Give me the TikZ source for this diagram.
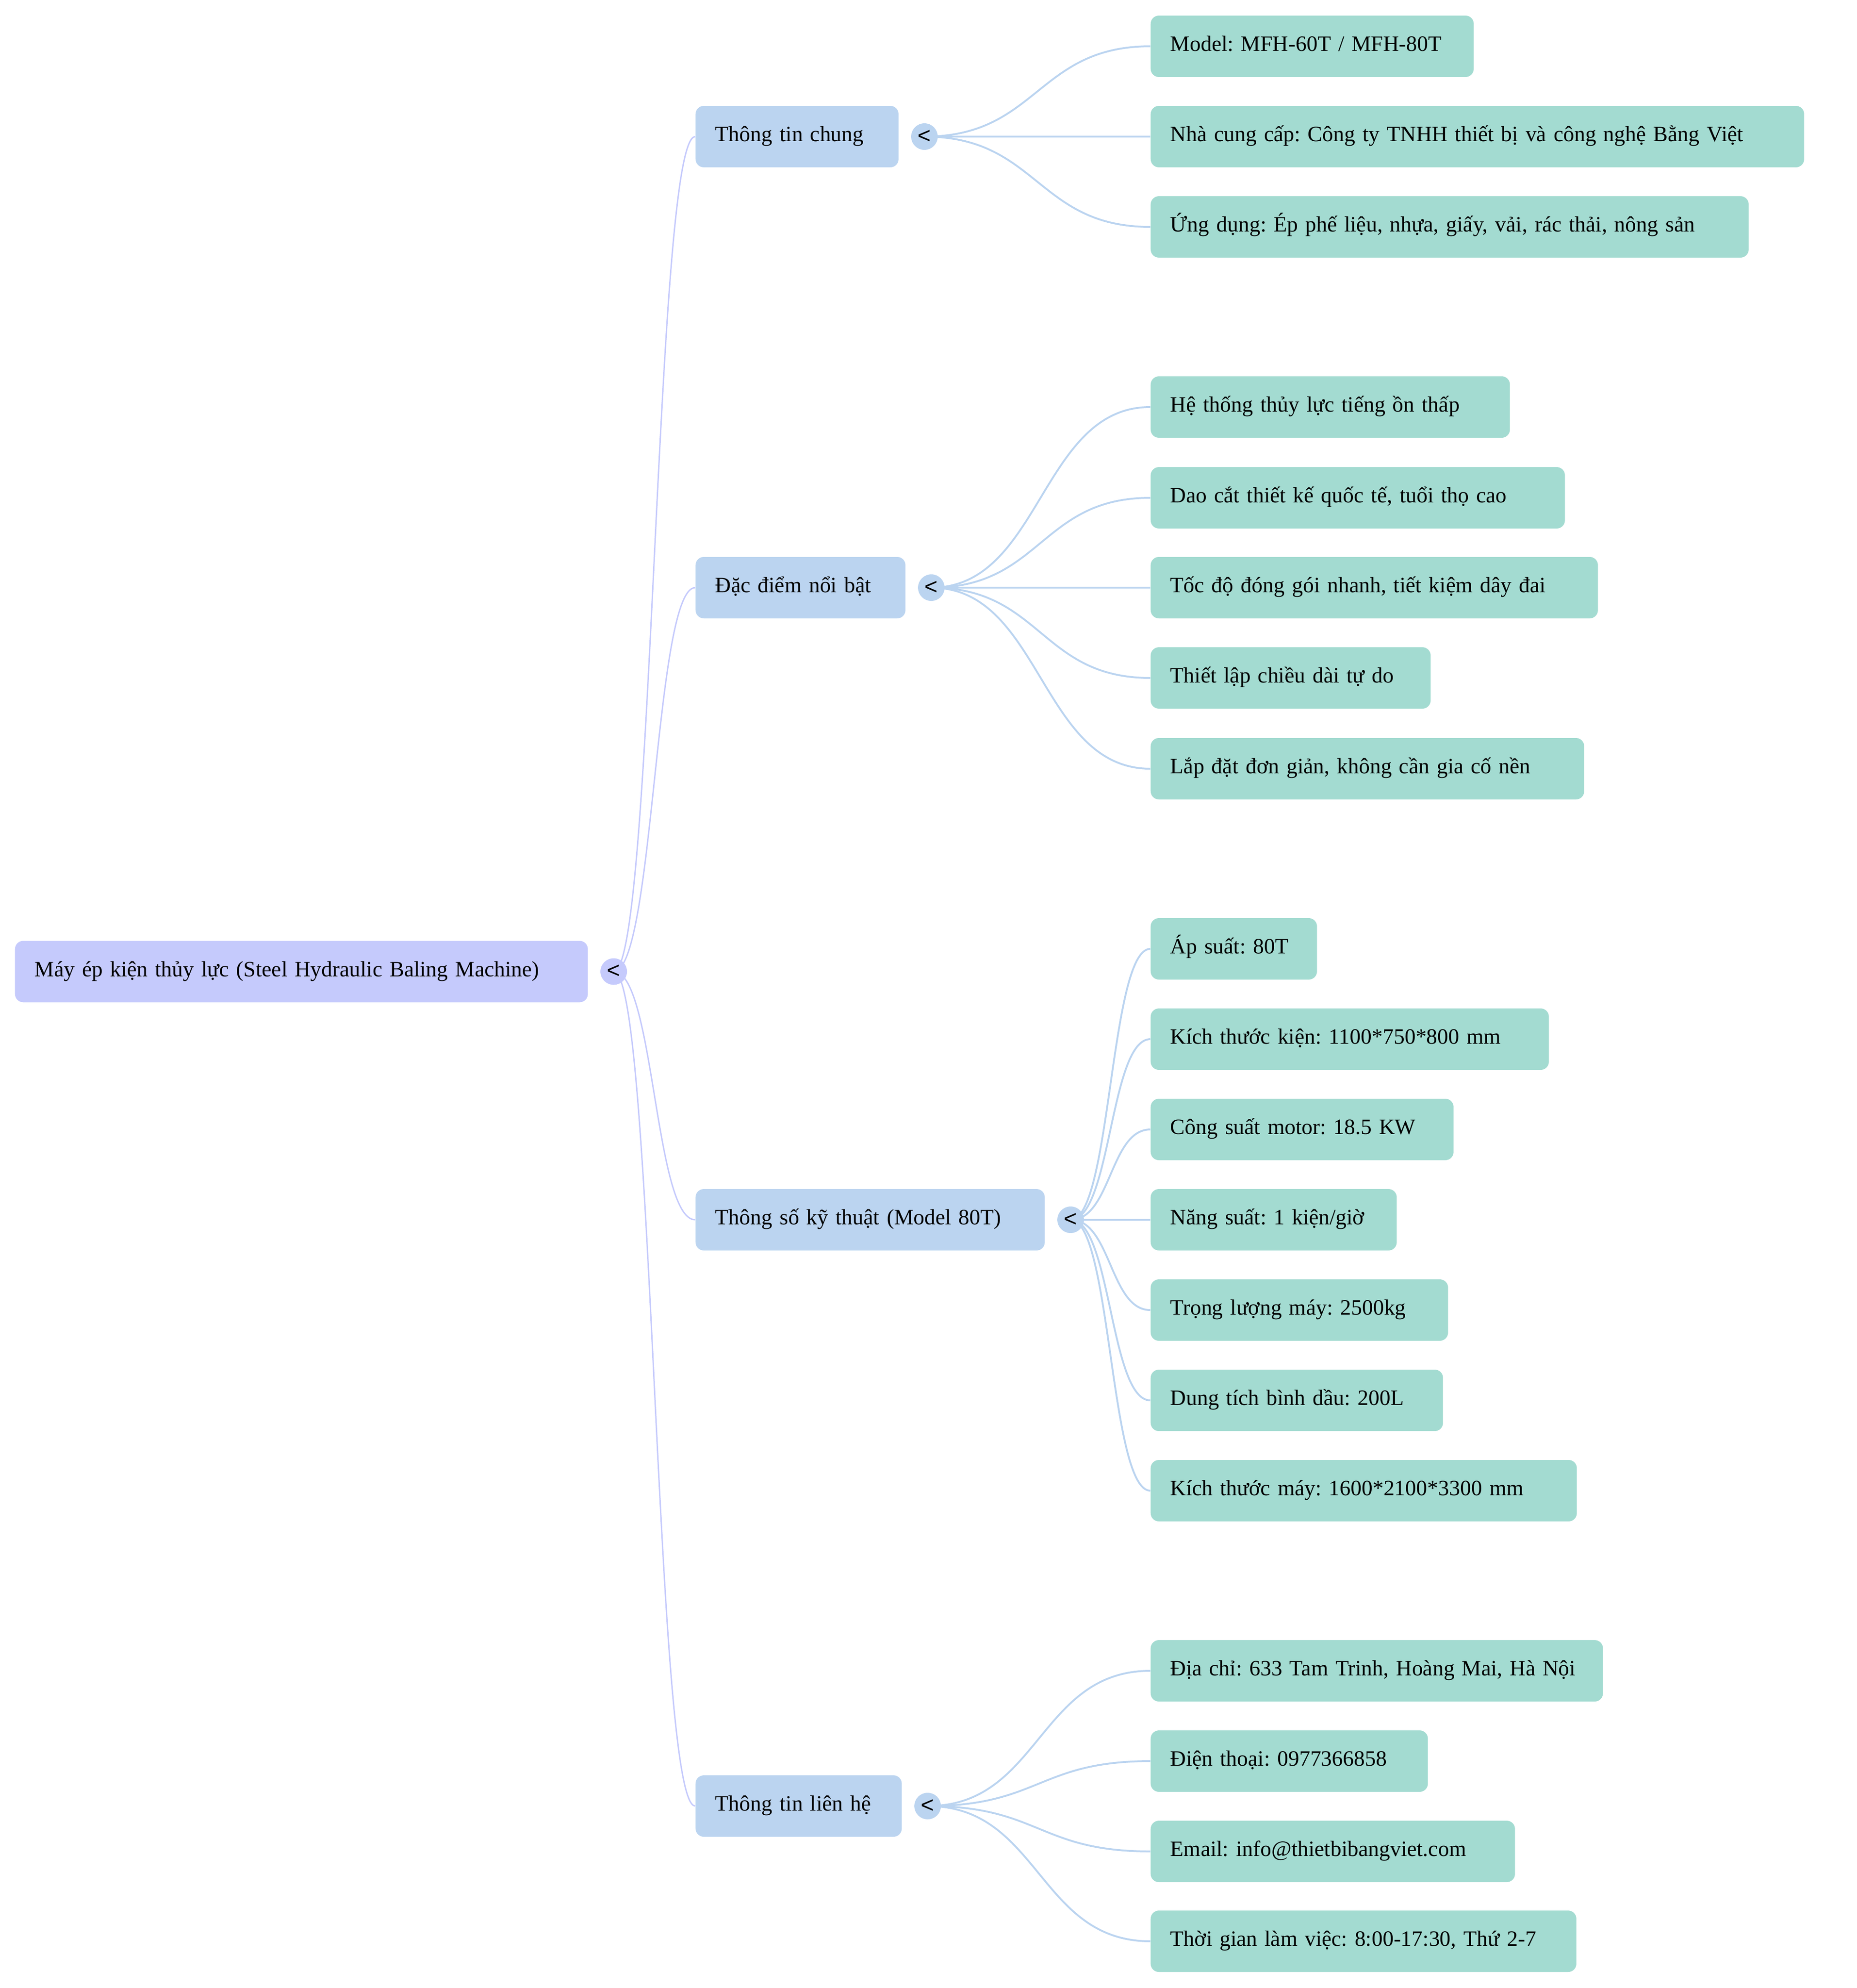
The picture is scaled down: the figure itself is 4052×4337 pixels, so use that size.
\documentclass[tikz,border=0pt]{standalone}
\usepackage{fontspec}
\setmainfont{Liberation Serif}
\newfontfamily\signfont{Liberation Sans}
\usetikzlibrary{positioning,backgrounds}
\definecolor{rootc}{HTML}{C5CAFC}
\definecolor{topicc}{HTML}{BBD4F0}
\definecolor{leafc}{HTML}{A3DBD1}
\frenchspacing
\tikzset{
  box/.style={anchor=west, rounded corners=1.8mm, minimum height=13.4mm, inner xsep=4.3mm,
    align=left, text height=3.3mm, text depth=1.2mm, font=\fontsize{13.6pt}{17pt}\selectfont},
  rootbox/.style={box, fill=rootc, text width=#1},
  topic/.style={box, fill=topicc, text width=#1},
  leaf/.style={box, fill=leafc, text width=#1},
  knob/.style={circle, inner sep=0pt, minimum size=5.8mm, fill=#1,
    font=\signfont\fontsize{14pt}{17pt}\selectfont},
  rootline/.style={draw=rootc, line width=0.3mm},
  leafline/.style={draw=topicc, line width=0.4mm},
}
\begin{document}
\begin{tikzpicture}[x=0.1mm,y=-0.1mm]
\useasboundingbox (0,0) rectangle (4052,4337);

% root
\node[rootbox=116.4mm] (root) at (32,2119.5) {Máy ép kiện thủy lực (Steel Hydraulic Baling Machine)};
\node[knob=rootc, right=2.6mm of root] (kroot) {<};

% topics
\node[topic=35.7mm] (gen) at (1517,298) {Thông tin chung};
\node[topic=37.2mm] (feat) at (1517,1282) {Đặc điểm nổi bật};
\node[topic=67.6mm] (spec) at (1517,2661) {Thông số kỹ thuật (Model 80T)};
\node[topic=36.4mm] (cont) at (1517,3940) {Thông tin liên hệ};
\foreach \t in {gen,feat,spec,cont}
  \node[knob=topicc, right=2.6mm of \t] (k\t) {<};

% leaves
\node[leaf=61.9mm] (gen1) at (2510,101) {Model: MFH-60T / MFH-80T};
\node[leaf=134mm] (gen2) at (2510,298) {Nhà cung cấp: Công ty TNHH thiết bị và công nghệ Bằng Việt};
\node[leaf=121.9mm] (gen3) at (2510,495) {Ứng dụng: Ép phế liệu, nhựa, giấy, vải, rác thải, nông sản};

\node[leaf=69.8mm] (feat1) at (2510,888) {Hệ thống thủy lực tiếng ồn thấp};
\node[leaf=81.8mm] (feat2) at (2510,1086) {Dao cắt thiết kế quốc tế, tuổi thọ cao};
\node[leaf=89mm] (feat3) at (2510,1282) {Tốc độ đóng gói nhanh, tiết kiệm dây đai};
\node[leaf=52.5mm] (feat4) at (2510,1479) {Thiết lập chiều dài tự do};
\node[leaf=86mm] (feat5) at (2510,1677) {Lắp đặt đơn giản, không cần gia cố nền};

\node[leaf=27.7mm] (spec1) at (2510,2070) {Áp suất: 80T};
\node[leaf=78.3mm] (spec2) at (2510,2267) {Kích thước kiện: 1100*750*800 mm};
\node[leaf=57.5mm] (spec3) at (2510,2464) {Công suất motor: 18.5 KW};
\node[leaf=45.1mm] (spec4) at (2510,2661) {Năng suất: 1 kiện/giờ};
\node[leaf=56.3mm] (spec5) at (2510,2858) {Trọng lượng máy: 2500kg};
\node[leaf=55.2mm] (spec6) at (2510,3055) {Dung tích bình dầu: 200L};
\node[leaf=84.4mm] (spec7) at (2510,3252) {Kích thước máy: 1600*2100*3300 mm};

\node[leaf=90.1mm] (cont1) at (2510,3645) {Địa chỉ: 633 Tam Trinh, Hoàng Mai, Hà Nội};
\node[leaf=51.9mm] (cont2) at (2510,3842) {Điện thoại: 0977366858};
\node[leaf=70.9mm] (cont3) at (2510,4039) {Email: info@thietbibangviet.com};
\node[leaf=84.3mm] (cont4) at (2510,4235) {Thời gian làm việc: 8:00-17:30, Thứ 2-7};

% links
\begin{scope}[on background layer]
\foreach \t in {gen,feat,spec,cont}
  \draw[rootline] (kroot.center) .. controls +(88.5,0) and +(-88.5,0) .. (\t.west);
\foreach \l in {gen1,gen2,gen3}
  \draw[leafline] (kgen.center) .. controls +(247.5,0) and +(-247.5,0) .. (\l.west);
\foreach \l in {feat1,feat2,feat3,feat4,feat5}
  \draw[leafline] (kfeat.center) .. controls +(240,0) and +(-240,0) .. (\l.west);
\foreach \l in {spec1,spec2,spec3,spec4,spec5,spec6,spec7}
  \draw[leafline] (kspec.center) .. controls +(88.5,0) and +(-88.5,0) .. (\l.west);
\foreach \l in {cont1,cont2,cont3,cont4}
  \draw[leafline] (kcont.center) .. controls +(244,0) and +(-244,0) .. (\l.west);
\end{scope}
\end{tikzpicture}
\end{document}
